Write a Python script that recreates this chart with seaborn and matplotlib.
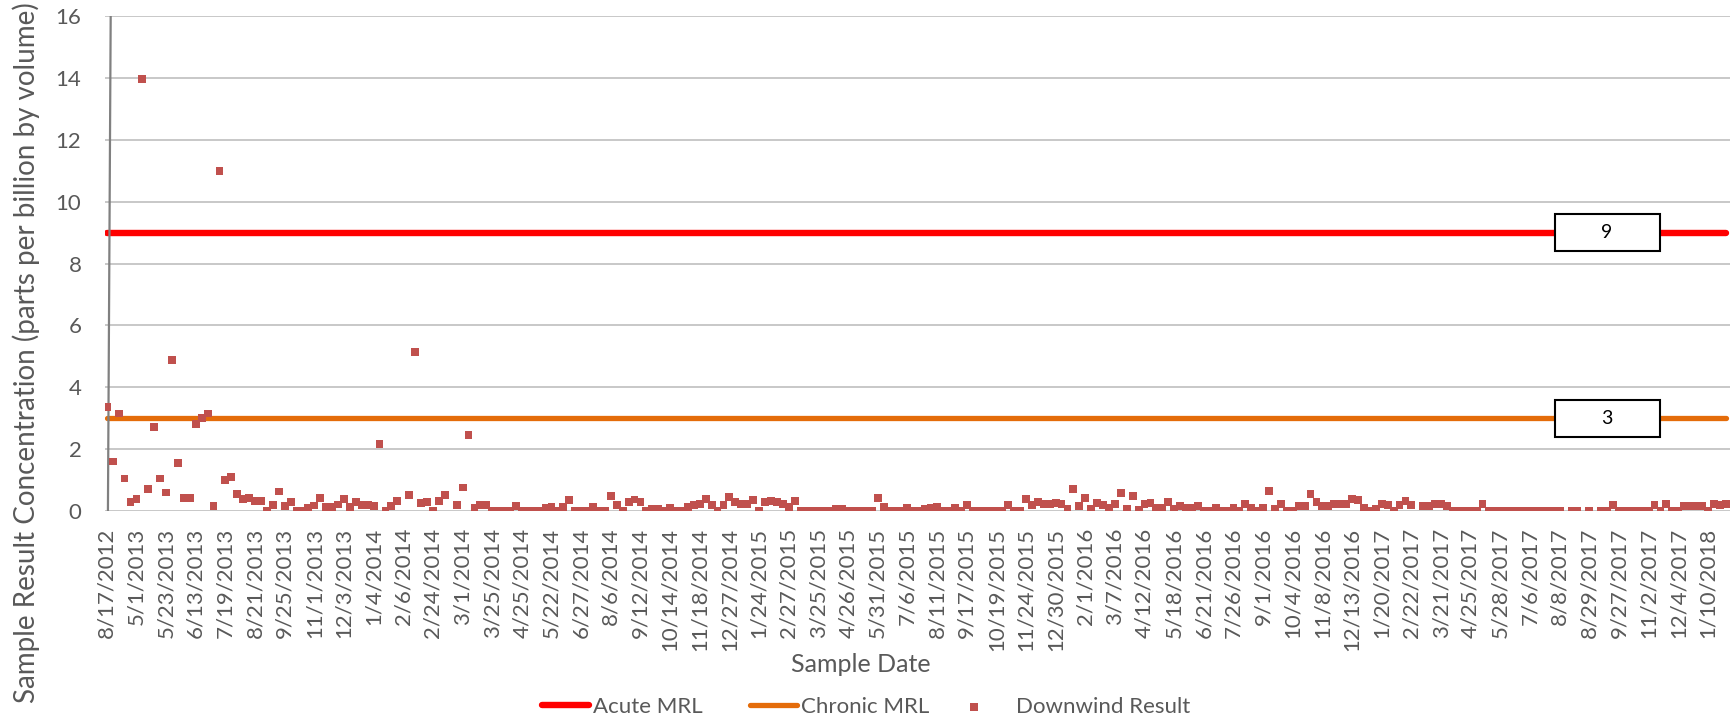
import numpy as np
import pandas as pd
import matplotlib
matplotlib.use("Agg")
import matplotlib.pyplot as plt
import seaborn as sns
from matplotlib.patches import Rectangle
from matplotlib.lines import Line2D

nan = np.nan

# ---- data ----
tick_labels = [
    "8/17/2012", "5/1/2013", "5/23/2013", "6/13/2013", "7/19/2013", "8/21/2013",
    "9/25/2013", "11/1/2013", "12/3/2013", "1/4/2014", "2/6/2014", "2/24/2014",
    "3/1/2014", "3/25/2014", "4/25/2014", "5/22/2014", "6/27/2014", "8/6/2014",
    "9/12/2014", "10/14/2014", "11/18/2014", "12/27/2014", "1/24/2015", "2/27/2015",
    "3/25/2015", "4/26/2015", "5/31/2015", "7/6/2015", "8/11/2015", "9/17/2015",
    "10/19/2015", "11/24/2015", "12/30/2015", "2/1/2016", "3/7/2016", "4/12/2016",
    "5/18/2016", "6/21/2016", "7/26/2016", "9/1/2016", "10/4/2016", "11/8/2016",
    "12/13/2016", "1/20/2017", "2/22/2017", "3/21/2017", "4/25/2017", "5/28/2017",
    "7/6/2017", "8/8/2017", "8/29/2017", "9/27/2017", "11/2/2017", "12/4/2017",
    "1/10/2018",
]

downwind_a = [3.35, 1.6, 3.15, 1.05, 0.3, 0.38, 13.95, 0.72, 2.72, 1.05,
              0.6, 4.87, 1.55, 0.43, 0.43, 2.8, 3.0, 3.15, 0.17, 11.0,
              1.0, 1.1, 0.55, 0.38, 0.42, 0.33, 0.33, 0.0, 0.2, 0.63,
              0.15, 0.3, 0.0, 0.0, 0.09, 0.18, 0.43, 0.12, 0.12, 0.21,
              0.38, 0.12, 0.28, 0.2, 0.2, 0.17, 2.17, 0.0, 0.17, 0.33]
downwind_b = [nan, 0.51, 5.15, 0.26, 0.28, 0.0, 0.31, 0.51, nan, 0.2,
              0.76, 2.46, 0.11, 0.2, 0.2, 0.0, 0.0, 0.0, 0.0, 0.15,
              0.0, 0.0, 0.0, 0.0, 0.1, 0.12, 0.0, 0.12, 0.35, 0.0,
              0.0, 0.0, 0.12, 0.0, 0.0, 0.48, 0.19, 0.0, 0.3, 0.37,
              0.3, 0.0, 0.08, 0.08, 0.0, 0.11, 0.0, 0.0, 0.13, 0.19]
downwind_c = [0.22, 0.38, 0.19, 0.0, 0.19, 0.46, 0.3, 0.22, 0.22, 0.35,
              0.0, 0.3, 0.33, 0.3, 0.24, 0.13, 0.32, 0.0, 0.0, 0.0,
              0.0, 0.0, 0.0, 0.06, 0.08, 0.0, 0.0, 0.0, 0.0, 0.0,
              0.42, 0.13, 0.0, 0.0, 0.0, 0.11, 0.0, 0.0, 0.08, 0.11,
              0.13, 0.0, 0.0, 0.11, 0.0, 0.19, 0.0, 0.0, 0.0, 0.0]
downwind_d = [0.0, 0.0, 0.19, 0.0, 0.0, 0.38, 0.19, 0.3, 0.24, 0.24,
              0.26, 0.22, 0.08, 0.7, 0.16, 0.42, 0.08, 0.26, 0.19, 0.11,
              0.24, 0.57, 0.08, 0.48, 0.02, 0.22, 0.27, 0.09, 0.09, 0.28,
              0.06, 0.17, 0.09, 0.09, 0.17, 0.0, 0.0, 0.09, 0.0, 0.0,
              0.09, 0.0, 0.23, 0.11, 0.0, 0.11, 0.66, 0.06, 0.23, 0.0]
downwind_e = [0.0, 0.16, 0.16, 0.54, 0.3, 0.16, 0.16, 0.22, 0.22, 0.22,
              0.4, 0.35, 0.09, 0.0, 0.06, 0.22, 0.19, 0.0, 0.19, 0.33,
              0.19, nan, 0.16, 0.16, 0.22, 0.22, 0.15, 0.0, 0.0, 0.0,
              0.0, 0.0, 0.22, 0.0, 0.0, 0.0, 0.0, 0.0, 0.0, 0.0,
              0.0, 0.0, 0.0, 0.0, 0.0, 0.0, nan, 0.0, 0.0, nan]
downwind_f = [0.0, nan, 0.0, 0.0, 0.2, 0.0, 0.0, 0.0, 0.0, 0.0,
              0.0, 0.2, 0.0, 0.22, 0.0, 0.0, 0.17, 0.17, 0.17, 0.15,
              0.0, 0.22, 0.2, 0.22]

acute_mrl = 9
chronic_mrl = 3
label_every = 5
label_point = 253

downwind = downwind_a + downwind_b + downwind_c + downwind_d + downwind_e + downwind_f
n = len(downwind)
idx = np.arange(n)
df = pd.DataFrame({
    "idx": idx,
    "Downwind Result": downwind,
    "Acute MRL": [acute_mrl] * n,
    "Chronic MRL": [chronic_mrl] * n,
})

# ---- styling ----
sns.set_theme(style="white")
plt.rcParams["font.family"] = ["Lato", "DejaVu Sans"]
TXT = "#595959"
W, H = 1731, 724

fig = plt.figure(figsize=(W / 100, H / 100), dpi=100)
ax = fig.add_axes([105 / W, 1 - 511 / H, 1 - 105 / W, (511 - 16) / H])

sns.lineplot(data=df, x="idx", y="Acute MRL", ax=ax, color="#FF0000", linewidth=4.6,
             label="Acute MRL", solid_capstyle="round", zorder=3)
sns.lineplot(data=df, x="idx", y="Chronic MRL", ax=ax, color="#E46C0A", linewidth=3.8,
             label="Chronic MRL", solid_capstyle="round", zorder=3)
sns.scatterplot(data=df, x="idx", y="Downwind Result", ax=ax, marker="s", s=32,
                color="#C0504D", edgecolor="none", linewidth=0, label="Downwind Result",
                zorder=5)

ax.set_xlim(-0.3, 273.9)
ax.set_ylim(0, 16)
ax.set_yticks(np.arange(0, 17, 2))
ax.yaxis.grid(True, color="#BFBFBF", linewidth=1.2)
ax.xaxis.grid(False)
ax.set_axisbelow(True)
for s in ax.spines.values():
    s.set_visible(False)

ax.set_xticks(idx[::label_every])
ax.set_xticklabels(tick_labels, rotation=90, ha="center", va="top")
ax.tick_params(axis="x", length=0, pad=12, labelsize=16, labelcolor=TXT)
ax.tick_params(axis="y", length=0, pad=17, labelsize=16, labelcolor=TXT)

ax.set_xlabel("Sample Date", fontsize=18, color=TXT)
ax.set_ylabel("Sample Result Concentration (parts per billion by volume)", fontsize=20, color=TXT)
ax.xaxis.set_label_coords((861 - 105) / 1626, (511 - 653) / 495)
ax.yaxis.set_label_coords((40 - 105) / 1626, (511 - 353) / 495)

# thin gray vertical rule near the left edge
ax.add_line(Line2D([0.0035, 0.0018], [1, 0], transform=ax.transAxes, color="#808080",
                   linewidth=1.6, zorder=4))

# boxed value labels on the MRL lines
for val in (acute_mrl, chronic_mrl):
    ax.add_patch(Rectangle((label_point - 8.85, val - 0.6), 17.7, 1.2, facecolor="white",
                           edgecolor="black", linewidth=1.5, zorder=6))
    ax.text(label_point, val, str(val), ha="center", va="center", fontsize=14,
            color="black", zorder=7)

# legend: one entry per slot, placed like the reference
handles, labels = ax.get_legend_handles_labels()
if ax.get_legend():
    ax.get_legend().remove()
slots = {"Acute MRL": (542, 2.1, 0.2), "Chronic MRL": (750, 2.1, 0.2),
         "Downwind Result": (952, 2.0, 0.88)}
for h, l in zip(handles, labels):
    x0, hl, tp = slots[l]
    lg = fig.legend([h], [l], loc="center left", bbox_to_anchor=(x0 / W, 1 - 707 / H),
                    frameon=False, fontsize=16, handlelength=hl, handletextpad=tp,
                    borderpad=0, borderaxespad=0)
    for t in lg.get_texts():
        t.set_color(TXT)

fig.savefig("out.png", dpi=100)
